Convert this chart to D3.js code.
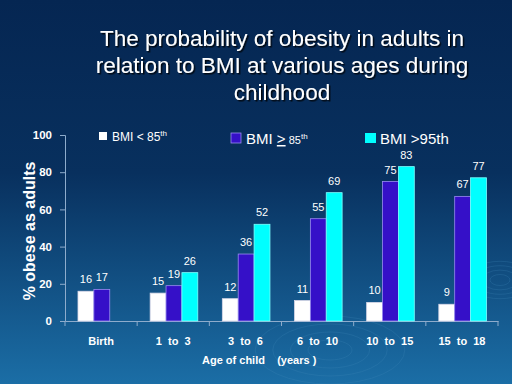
<!DOCTYPE html>
<html>
<head>
<meta charset="utf-8">
<script src="https://cdn.jsdelivr.net/npm/d3@7"></script>
<style>
body { margin: 0; background: #062a55; }
svg text { font-family: "Liberation Sans", Arial, sans-serif; }
</style>
</head>
<body>
<script>
// chart data
const ages = ["Birth", "1  to  3", "3  to  6", "6  to  10", "10  to  15", "15  to  18"];
const seriesKeys = ["lt85", "ge85", "gt95"];
const lt85 = [16, 15, 12, 11, 10, 9];
const ge85 = [17, 19, 36, 55, 75, 67];
const gt95 = [null, 26, 52, 69, 83, 77];
const yTicks = [0, 20, 40, 60, 80, 100];

const width = 512, height = 384;
const colors = { lt85: "#ffffff", ge85: "#3510c8", gt95: "#00ffff" };
const strokes = { lt85: "#d8d8e8", ge85: "#9a8cf0", gt95: "#7fffff" };

const svg = d3.select("body").append("svg")
    .attr("width", width)
    .attr("height", height);

// background
const defs = svg.append("defs");
const grad = defs.append("linearGradient")
    .attr("id", "bg").attr("x1", 0).attr("y1", 0).attr("x2", 0).attr("y2", 1);
grad.append("stop").attr("offset", "0%").attr("stop-color", "#052652");
grad.append("stop").attr("offset", "45%").attr("stop-color", "#08305e");
grad.append("stop").attr("offset", "100%").attr("stop-color", "#1b6ea6");
const shadow = defs.append("filter").attr("id", "shadow");
shadow.append("feDropShadow").attr("dx", 1.5).attr("dy", 1.5).attr("stdDeviation", 0.6)
    .attr("flood-color", "#000").attr("flood-opacity", 0.8);

svg.append("rect").attr("width", width).attr("height", height).attr("fill", "url(#bg)");

// faint ripples
const ripples = svg.append("g").attr("fill", "none").attr("stroke", "#3f86b8").attr("stroke-opacity", 0.25);
[10, 18, 26, 34].forEach(r => {
    ripples.append("ellipse").attr("cx", 500).attr("cy", 280).attr("rx", r).attr("ry", r * 0.55);
    ripples.append("ellipse").attr("cx", 330).attr("cy", 350).attr("rx", r * 2.2).attr("ry", r);
});

// title
const title = svg.append("text")
    .attr("x", 282).attr("y", 46)
    .attr("text-anchor", "middle")
    .attr("fill", "#ffffff")
    .attr("font-size", 22.5)
    .attr("filter", "url(#shadow)");
["The probability of obesity in adults in", "relation to BMI at various ages during", "childhood"]
    .forEach((t, i) => title.append("tspan").attr("x", 282).attr("dy", i ? 27 : 0).text(t));

// scales
const x0 = d3.scaleBand().domain(ages).range([65, 498]).padding(0);
const x1 = d3.scaleBand().domain(seriesKeys)
    .range([x0.bandwidth() * 0.18, x0.bandwidth() * 0.84]).padding(0);
const y = d3.scaleLinear().domain([0, 100]).range([321, 135]);

// axes
const axisColor = "#8eaccc";
const yAxis = svg.append("g").attr("transform", "translate(65,0)")
    .call(d3.axisLeft(y).tickValues(yTicks).tickSize(5).tickPadding(8));
yAxis.select(".domain").attr("stroke", axisColor);
yAxis.selectAll(".tick line").attr("stroke", axisColor);
yAxis.selectAll(".tick text").attr("fill", "#ffffff").attr("font-size", 11.5)
    .attr("font-weight", "bold").attr("font-family", "Liberation Sans, Arial, sans-serif");

const xAxis = svg.append("g").attr("transform", "translate(0,321)")
    .call(d3.axisBottom(x0).tickSize(0).tickPadding(16));
xAxis.select(".domain").attr("stroke", axisColor);
xAxis.selectAll(".tick text").attr("fill", "#ffffff").attr("font-size", 11)
    .attr("font-weight", "bold").attr("font-family", "Liberation Sans, Arial, sans-serif")
    .style("white-space", "pre").attr("xml:space", "preserve");
// boundary ticks between categories
svg.append("g").selectAll("line")
    .data(ages.concat(["end"]))
    .join("line")
    .attr("x1", (d, i) => i < ages.length ? x0(d) : x0.range()[1])
    .attr("x2", (d, i) => i < ages.length ? x0(d) : x0.range()[1])
    .attr("y1", 321).attr("y2", 326)
    .attr("stroke", axisColor);

// bars
const rows = ages.map((a, i) => ({ age: a, values: { lt85: lt85[i], ge85: ge85[i], gt95: gt95[i] } }));
const groups = svg.append("g").selectAll("g")
    .data(rows)
    .join("g")
    .attr("transform", d => `translate(${x0(d.age)},0)`);

const cells = d => seriesKeys.filter(k => d.values[k] != null).map(k => ({ key: k, value: d.values[k] }));

groups.selectAll("rect")
    .data(cells)
    .join("rect")
    .attr("x", d => x1(d.key))
    .attr("y", d => y(d.value))
    .attr("width", x1.bandwidth())
    .attr("height", d => y(0) - y(d.value))
    .attr("fill", d => colors[d.key])
    .attr("stroke", d => strokes[d.key])
    .attr("stroke-width", 0.8);

groups.selectAll("text")
    .data(cells)
    .join("text")
    .attr("x", d => x1(d.key) + x1.bandwidth() / 2)
    .attr("y", d => y(d.value) - 8)
    .attr("text-anchor", "middle")
    .attr("fill", "#ffffff")
    .attr("font-size", 11)
    .text(d => d.value);

// axis titles
svg.append("text")
    .attr("transform", "translate(35,231) rotate(-90)")
    .attr("text-anchor", "middle")
    .attr("fill", "#ffffff")
    .attr("font-size", 16)
    .attr("font-weight", "bold")
    .text("% obese as adults");

svg.append("text")
    .attr("x", 202).attr("y", 364)
    .attr("fill", "#ffffff")
    .attr("font-size", 11)
    .attr("font-weight", "bold")
    .attr("xml:space", "preserve")
    .style("white-space", "pre")
    .text("Age of child    (years )");

// legend
const legend = svg.append("g");
legend.append("rect").attr("x", 99).attr("y", 132).attr("width", 8).attr("height", 8).attr("fill", colors.lt85);
const l1 = legend.append("text").attr("x", 112).attr("y", 141).attr("fill", "#ffffff").attr("font-size", 12);
l1.append("tspan").text("BMI < 85");
l1.append("tspan").attr("font-size", 8).attr("dy", -5).text("th");

legend.append("rect").attr("x", 231).attr("y", 133).attr("width", 10).attr("height", 10)
    .attr("fill", colors.ge85).attr("stroke", "#9a8cf0").attr("stroke-width", 0.8);
const l2 = legend.append("text").attr("x", 246).attr("y", 144).attr("fill", "#ffffff").attr("font-size", 15);
l2.append("tspan").text("BMI ");
l2.append("tspan").attr("text-decoration", "underline").text(">");
l2.append("tspan").attr("font-size", 11).text(" 85");
l2.append("tspan").attr("font-size", 8).attr("dy", -5).text("th");

legend.append("rect").attr("x", 365).attr("y", 133).attr("width", 11).attr("height", 10).attr("fill", colors.gt95);
legend.append("text").attr("x", 380).attr("y", 144).attr("fill", "#ffffff").attr("font-size", 15)
    .text("BMI >95th");
</script>
</body>
</html>
